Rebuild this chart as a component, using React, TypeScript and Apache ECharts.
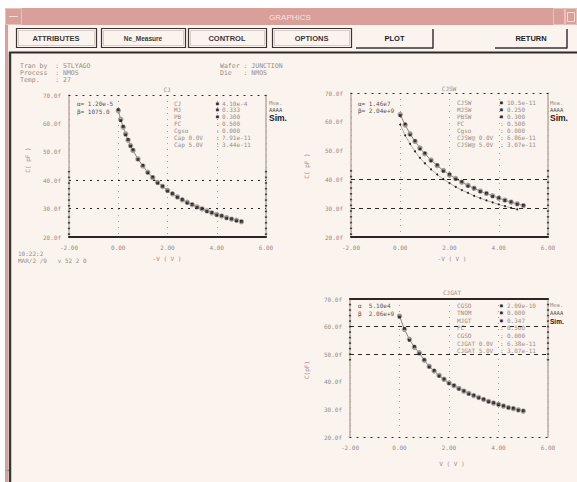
import React, { useEffect, useRef } from 'react';
import * as echarts from 'echarts';

// ---------- data ----------
const xTicks = [-2, 0, 2, 4, 6];
const yTicks = [20, 30, 40, 50, 60, 70];

const V1 = [0, 0.1, 0.2, 0.3, 0.4, 0.5, 0.6, 0.8, 1.0, 1.2, 1.4, 1.6, 1.8, 2.0, 2.2, 2.4, 2.6, 2.8, 3.0, 3.2, 3.4, 3.6, 3.8, 4.0, 4.2, 4.4, 4.6, 4.8, 5.0];
const C1sim = [64.5, 61.4, 58.7, 56.3, 54.1, 52.2, 50.5, 47.5, 45.0, 42.8, 40.9, 39.2, 37.8, 36.4, 35.2, 34.1, 33.1, 32.2, 31.4, 30.6, 29.9, 29.2, 28.5, 27.9, 27.4, 26.8, 26.3, 25.9, 25.4];
const C1meas = [64.8, 61.0, 58.9, 56.0, 54.3, 52.0, 50.7, 47.3, 45.2, 42.6, 41.1, 39.0, 37.9, 36.2, 35.3, 34.0, 33.2, 32.0, 31.5, 30.4, 30.0, 29.0, 28.6, 27.7, 27.5, 26.6, 26.4, 25.7, 25.5];
const C1hLines = [30, 40];
const C1edge = [21, 23, 25, 27, 29, 31, 33, 35, 37, 39, 41, 43];

const V2 = [0, 0.2, 0.4, 0.6, 0.8, 1.0, 1.25, 1.5, 1.75, 2.0, 2.25, 2.5, 2.75, 3.0, 3.25, 3.5, 3.75, 4.0, 4.25, 4.5, 4.75, 5.0];
const C2sim = [62.5, 58.9, 55.8, 53.2, 50.9, 48.9, 46.7, 44.8, 43.1, 41.6, 40.3, 39.0, 37.9, 36.9, 35.9, 35.1, 34.3, 33.5, 32.8, 32.1, 31.5, 30.9];
const C2meas = [62.2, 59.2, 55.5, 53.4, 50.6, 49.1, 46.5, 45.0, 42.9, 41.8, 40.1, 39.2, 37.7, 37.0, 35.8, 35.2, 34.1, 33.6, 32.7, 32.2, 31.4, 31.0];
const C2low = [59.0, 55.3, 52.3, 49.7, 47.5, 45.6, 43.5, 41.7, 40.1, 38.7, 37.4, 36.3, 35.3, 34.3, 33.5, 32.7, 32.0, 31.3, 30.7, 30.1, 29.6];
const C2hLines = [30, 40];
const C2edge = [21, 23, 25, 27, 29, 31, 33, 35, 37, 39, 41, 43];

const V3 = [0, 0.2, 0.4, 0.6, 0.8, 1.0, 1.2, 1.4, 1.6, 1.8, 2.0, 2.2, 2.4, 2.6, 2.8, 3.0, 3.2, 3.4, 3.6, 3.8, 4.0, 4.2, 4.4, 4.6, 4.8, 5.0];
const C3sim = [63.8, 59.0, 55.4, 52.5, 50.5, 47.8, 45.6, 43.9, 42.3, 40.9, 39.6, 38.6, 37.6, 36.6, 35.8, 35.0, 34.3, 33.6, 32.9, 32.3, 31.8, 31.2, 30.7, 30.3, 29.8, 29.4];
const C3meas = [63.5, 59.3, 55.1, 52.8, 50.2, 48.0, 45.4, 44.1, 42.1, 41.0, 39.4, 38.7, 37.4, 36.7, 35.6, 35.1, 34.2, 33.7, 32.8, 32.4, 31.7, 31.3, 30.6, 30.4, 29.7, 29.5];
const C3hLines = [50, 60];
const C3edge = [48, 50, 52, 54, 56, 58, 60, 62, 64, 66, 68];

const buttons = ['ATTRIBUTES', 'Ne_Measure', 'CONTROL', 'OPTIONS', 'PLOT', 'RETURN'];
const paramNames1 = ['CJ', 'MJ', 'PB', 'FC', 'Cgso', 'Cap 0.0V', 'Cap 5.0V'];
const paramVals1 = ['4.10e-4', '0.333', '0.300', '0.500', '0.000', '7.91e-11', '3.44e-11'];
const paramNames2 = ['CJSW', 'MJSW', 'PBSW', 'FC', 'Cgso', 'CJSW@ 0.0V', 'CJSW@ 5.0V'];
const paramVals2 = ['10.5e-11', '0.250', '0.300', '0.500', '0.000', '6.86e-11', '3.07e-11'];
const paramNames3 = ['CGSO', 'TNOM', 'MJGT', 'FC', 'CGSO', 'CJGAT 0.0V', 'CJGAT 5.0V'];
const paramVals3 = ['2.09e-10', '0.000', '0.347', '0.500', '0.000', '6.38e-11', '3.07e-11'];

// ---------- style constants ----------
const FONT = 'DejaVu Sans Mono';
const CREAM = '#fbf3ed';
const PINK = '#d99f99';
const TAN = '#b9aba2';
const LBL = '#978d88';
const DARK = '#2a2626';

const zip = (xs: number[], ys: number[]) => ys.map((y, i) => [xs[i], y]);

const GRIDS = [
  { left: 69, top: 95, width: 197, height: 142 },
  { left: 351, top: 93, width: 197, height: 144 },
  { left: 350, top: 299, width: 198, height: 138 },
];

function txt(x: number, y: number, text: string, o: any = {}) {
  return {
    type: 'text',
    x,
    y,
    rotation: o.rotation || 0,
    silent: true,
    style: {
      text,
      fill: o.color || LBL,
      fontSize: o.size || 6,
      fontFamily: o.font || FONT,
      fontWeight: o.weight || 'normal',
      align: o.align || 'left',
      textAlign: o.align || 'left',
      verticalAlign: 'middle',
      textVerticalAlign: 'middle',
    },
  };
}

function ln(x1: number, y1: number, x2: number, y2: number, color: string, width = 1, dash?: number[]) {
  return {
    type: 'line',
    silent: true,
    shape: { x1, y1, x2, y2 },
    style: { stroke: color, lineWidth: width, lineDash: dash },
  };
}

function axesFor(i: number, bottom: any, top: any) {
  const lab = { color: LBL, fontSize: 6, fontFamily: FONT };
  const xs = [
    {
      type: 'value', gridIndex: i, min: xTicks[0], max: xTicks[xTicks.length - 1], interval: 2, position: 'bottom',
      axisLine: { onZero: false, lineStyle: bottom },
      axisTick: { show: false },
      axisLabel: { ...lab, margin: 7, formatter: (v: number) => v.toFixed(2) },
      splitLine: { show: true, lineStyle: { type: [1, 5], color: '#a89c95', width: 1 } },
    },
    {
      type: 'value', gridIndex: i, min: xTicks[0], max: xTicks[xTicks.length - 1], position: 'top',
      axisLine: { onZero: false, lineStyle: top },
      axisTick: { show: false }, axisLabel: { show: false }, splitLine: { show: false },
    },
  ];
  const ys = [
    {
      type: 'value', gridIndex: i, min: yTicks[0], max: yTicks[yTicks.length - 1], interval: 10, position: 'left',
      axisLine: { show: true, onZero: false, lineStyle: { color: TAN, width: 1.5 } },
      axisTick: { show: false },
      axisLabel: { ...lab, margin: 8, formatter: (v: number) => v.toFixed(1) + 'f' },
      splitLine: { show: false },
    },
    {
      type: 'value', gridIndex: i, min: yTicks[0], max: yTicks[yTicks.length - 1], position: 'right',
      axisLine: { show: true, onZero: false, lineStyle: { color: TAN, width: 1.5 } },
      axisTick: { show: false }, axisLabel: { show: false }, splitLine: { show: false },
    },
  ];
  return { xs, ys };
}

function hLines(vals: number[], dash: any) {
  return {
    silent: true,
    symbol: ['none', 'none'],
    label: { show: false },
    lineStyle: { color: DARK, width: 1.2, type: dash },
    data: vals.map((v) => ({ yAxis: v })),
  };
}

function edgeDots(axisIdx: number, ys: number[]) {
  const xl = xTicks[0];
  const xr = xTicks[xTicks.length - 1];
  return {
    type: 'scatter', xAxisIndex: axisIdx, yAxisIndex: axisIdx, silent: true, z: 5,
    data: [...ys.map((y) => [xl, y]), ...ys.map((y) => [xr, y])],
    symbol: 'rect', symbolSize: [2.2, 1.6], itemStyle: { color: DARK },
  };
}

function paramBlock(y0: number, dy: number, names: string[], vals: string[], nameX: number, eqX: number, valX: number) {
  const out: any[] = [];
  names.forEach((n, i) => {
    const y = y0 + i * dy;
    out.push(txt(nameX, y, n));
    out.push(txt(eqX, y, i < 3 ? '■' : ':', { color: i < 3 ? DARK : LBL, size: i < 3 ? 4.5 : 6 }));
    out.push(txt(valX, y, vals[i]));
  });
  return out;
}

function curveSeries(axisIdx: number, V: number[], sim: number[], meas: number[], extra: any = {}) {
  return [
    {
      type: 'line', xAxisIndex: axisIdx, yAxisIndex: axisIdx, data: zip(V, sim),
      symbol: 'emptyCircle', symbolSize: 3.4, showSymbol: true,
      itemStyle: { color: '#a39d9a', borderWidth: 0.8 }, lineStyle: { color: '#8a8582', width: 1 },
      ...extra,
    },
    {
      type: 'scatter', xAxisIndex: axisIdx, yAxisIndex: axisIdx, data: zip(V, meas),
      symbol: 'rect', symbolSize: 2.8, itemStyle: { color: '#141212' }, z: 4,
    },
  ];
}

function buildOption() {
  const a0 = axesFor(0, { color: DARK, width: 2 }, { color: DARK, width: 1.2, type: [1, 6] });
  const a1 = axesFor(1, { color: DARK, width: 2 }, { color: DARK, width: 1.2, type: [1, 6] });
  const a2 = axesFor(2, { color: DARK, width: 1.2, type: [1, 6] }, { color: DARK, width: 2 });

  const xAxis = [...a0.xs, ...a1.xs, ...a2.xs];
  const yAxis = [...a0.ys, ...a1.ys, ...a2.ys];

  const series: any[] = [
    ...curveSeries(0, V1, C1sim, C1meas, { markLine: hLines(C1hLines, [2, 5]) }),
    edgeDots(0, C1edge),
    {
      type: 'line', xAxisIndex: 2, yAxisIndex: 2, data: zip(V2, C2low),
      symbol: 'circle', symbolSize: 2, showSymbol: true,
      itemStyle: { color: '#222' }, lineStyle: { color: '#a09a97', width: 0.8 },
      markLine: hLines(C2hLines, [4, 4]),
    },
    ...curveSeries(2, V2, C2sim, C2meas),
    edgeDots(2, C2edge),
    ...curveSeries(4, V3, C3sim, C3meas, { markLine: hLines(C3hLines, [4, 4]) }),
    edgeDots(4, C3edge),
  ];

  const g: any[] = [];
  // window frame
  g.push({ type: 'rect', silent: true, z: -100, shape: { x: 5, y: 8, width: 572, height: 474 }, style: { fill: CREAM } });
  g.push({ type: 'rect', silent: true, shape: { x: 5, y: 8, width: 572, height: 17 }, style: { fill: PINK } });
  g.push({ type: 'rect', silent: true, shape: { x: 5, y: 8, width: 3, height: 474 }, style: { fill: PINK } });
  g.push({ type: 'rect', silent: true, shape: { x: 5.5, y: 8.5, width: 16, height: 16 }, style: { fill: 'none', stroke: '#e8c2bd', lineWidth: 1 } });
  g.push(ln(9, 16.5, 18, 16.5, '#f2dcd8', 1));
  g.push({ type: 'rect', silent: true, shape: { x: 553.5, y: 8.5, width: 11, height: 16 }, style: { fill: 'none', stroke: '#e8c2bd', lineWidth: 1 } });
  g.push({ type: 'rect', silent: true, shape: { x: 565.5, y: 8.5, width: 11, height: 16 }, style: { fill: 'none', stroke: '#e8c2bd', lineWidth: 1 } });
  g.push({ type: 'rect', silent: true, shape: { x: 567.5, y: 12.5, width: 7, height: 9 }, style: { fill: 'none', stroke: '#f2dcd8', lineWidth: 1 } });
  g.push(txt(290, 17, 'GRAPHICS', { color: '#f6e4e1', size: 8, font: 'Liberation Sans', align: 'center' }));
  g.push(ln(5, 470.5, 9, 470.5, '#a8a0a0', 1.5));

  // buttons
  const bx = [[16, 96], [101, 185], [188, 266], [272, 351], [356, 433], [495, 567]];
  bx.forEach(([x1, x2], i) => {
    if (i < 4) {
      g.push({ type: 'rect', silent: true, shape: { x: x1 + 0.5, y: 28.5, width: x2 - x1, height: 19 }, style: { fill: 'none', stroke: '#3a3636', lineWidth: 1.2 } });
      g.push({ type: 'rect', silent: true, shape: { x: x1 + 2.5, y: 30.5, width: x2 - x1 - 4, height: 15 }, style: { fill: 'none', stroke: '#d8ccc6', lineWidth: 1 } });
    } else {
      g.push(ln(x1, 48, x2, 48, '#3a3636', 1.5));
      g.push(ln(x2, 29, x2, 48.5, '#3a3636', 1.5));
    }
    const isPlain = i >= 4;
    g.push(txt((x1 + x2) / 2, 38.5, buttons[i], {
      color: isPlain ? '#1e1c1c' : '#3c3838', size: i === 1 ? 6.5 : 7.5,
      font: 'Liberation Sans', weight: 'bold', align: 'center',
    }));
  });
  // drawing area borders
  g.push(ln(9, 52.5, 577, 52.5, '#2e2a2a', 2));
  g.push(ln(10, 52, 10, 482, '#3a3636', 2.5));

  // header text
  g.push(txt(20, 66, 'Tran by  : STLYAGO', { size: 6.5 }));
  g.push(txt(20, 73, 'Process  : NMOS', { size: 6.5 }));
  g.push(txt(20, 80, 'Temp.    : 27', { size: 6.5 }));
  g.push(txt(220, 66, 'Wafer : JUNCTION', { size: 6.5 }));
  g.push(txt(220, 73, 'Die   : NMOS', { size: 6.5 }));

  // chart 1 annotations
  g.push(txt(167, 89, 'CJ', { align: 'center' }));
  g.push(txt(77, 103, 'α= 1.20e-5', { color: '#555' }));
  g.push(txt(77, 111, 'β= 1075.0', { color: '#555' }));
  g.push(...paramBlock(103, 6.9, paramNames1, paramVals1, 174, 216, 222));
  g.push(txt(269, 103, 'Mea.', { size: 5.5 }));
  g.push(txt(269, 110, 'AAAA', { size: 5.5, color: '#555' }));
  g.push(txt(269, 118, 'Sim.', { size: 8.5, color: '#222', weight: 'bold', font: 'Liberation Sans' }));
  g.push(txt(27, 160, 'C( pF )', { rotation: Math.PI / 2, align: 'center' }));
  g.push(txt(167, 258, '-V ( V )', { align: 'center' }));
  g.push(txt(18, 253, '10:22:2'));
  g.push(txt(18, 260, 'MAR/2 /9   v 52 2 0'));

  // chart 2 annotations
  g.push(txt(449, 88, 'CJSW', { align: 'center' }));
  g.push(txt(358, 103, 'α= 1.46e7', { color: '#555' }));
  g.push(txt(358, 110, 'β= 2.04e+9', { color: '#555' }));
  g.push(...paramBlock(102, 7.1, paramNames2, paramVals2, 457, 500, 507));
  g.push(txt(550, 103, 'Mea.', { size: 5.5 }));
  g.push(txt(550, 110, 'AAAA', { size: 5.5, color: '#555' }));
  g.push(txt(550, 118, 'Sim.', { size: 8.5, color: '#222', weight: 'bold', font: 'Liberation Sans' }));
  g.push(txt(306, 166, 'C( pF )', { rotation: Math.PI / 2, align: 'center' }));
  g.push(txt(452, 258, '-V ( V )', { align: 'center' }));

  // chart 3 annotations
  g.push(txt(452, 292, 'CJGAT', { align: 'center' }));
  g.push(txt(358, 305, 'α  5.10e4', { color: '#555' }));
  g.push(txt(358, 313, 'β  2.06e+9', { color: '#555' }));
  g.push(...paramBlock(305, 7.6, paramNames3, paramVals3, 457, 500, 507));
  g.push(txt(550, 305, 'Mea.', { size: 5.5 }));
  g.push(txt(550, 313, 'AAAA', { size: 5.5, color: '#555' }));
  g.push(txt(550, 321, 'Sim.', { size: 6.5, color: '#222', weight: 'bold', font: 'Liberation Sans' }));
  g.push(txt(306, 370, 'C(pF)', { rotation: Math.PI / 2, align: 'center' }));
  g.push(txt(452, 463, 'V ( V )', { align: 'center' }));

  return {
    animation: false,
    backgroundColor: '#ffffff',
    grid: GRIDS.map((gr) => ({ ...gr, containLabel: false })),
    xAxis,
    yAxis,
    series,
    graphic: g,
  };
}

export default function App() {
  const ref = useRef<HTMLDivElement>(null);
  useEffect(() => {
    const chart = echarts.init(ref.current!, null, { renderer: 'svg' });
    chart.setOption(buildOption() as any);
    return () => chart.dispose();
  }, []);
  return <div ref={ref} style={{ position: 'absolute', left: 0, top: 0, width: 577, height: 482 }} />;
}
